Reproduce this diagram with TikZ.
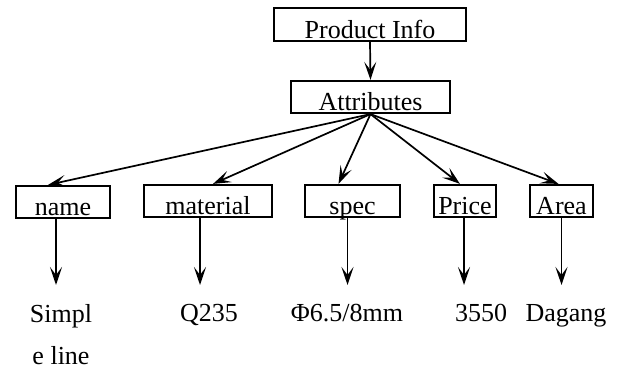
\documentclass[tikz,border=0pt]{standalone}
\usepackage{fontspec}
\setmainfont{Liberation Serif}
\usetikzlibrary{positioning,arrows.meta}
\tikzset{
  box/.style  ={draw, line width=1.7pt, inner xsep=2pt, inner ysep=0pt, text height=30pt, text depth=2.5pt, align=center},
  leaf/.style ={inner sep=0pt, outer ysep=19pt, anchor=north, align=center},
  arrow/.style={-{Stealth[length=18pt,width=12pt,inset=8pt]}, line width=1.7pt}
}

\begin{document}
\begin{tikzpicture}[x=1pt, y=-1pt, font=\fontsize{26}{42}\selectfont]
    \useasboundingbox (0,0) rectangle (619,369);
    % top of the tree
    \node[box, minimum width=192pt] (prod) at (370,24.5) {Product Info};
    \node[box, minimum width=159pt] (attr) at (370.5,97) {Attributes};
    % attribute boxes
    \node[box, minimum width=94pt]  (name)  at (63,202)    {name};
    \node[box, minimum width=128pt] (mat)   at (208,201)   {material};
    \node[box, minimum width=95pt]  (spec)  at (352.5,201) {spec};
    \node[box, minimum width=62pt]  (price) at (465,201)   {Price};
    \node[box, minimum width=63pt]  (area)  at (561.5,201) {Area};
    % values
    \node[leaf] (nameval)  at (61,285)  {Simpl\\e line};
    \node[leaf] (matval)   at (209,285) {Q235};
    \node[leaf] (specval)  at (347,285) {Φ6.5/8mm};
    \node[leaf] (priceval) at (481,285) {3550};
    \node[leaf] (areaval)  at (566,285) {Dagang};
    % arrows
    \draw[arrow] (prod.south) -- (attr.north);
    \draw[arrow] (attr.south) -- ([xshift=-15pt]name.north);
    \draw[arrow] (attr.south) -- ([xshift=5pt]mat.north);
    \draw[arrow] (attr.south) -- ([xshift=-14pt]spec.north);
    \draw[arrow] (attr.south) -- ([xshift=-5pt]price.north);
    \draw[arrow] (attr.south) -- ([xshift=-3pt]area.north);
    \draw[arrow] ([xshift=-7pt]name.south) -- ([xshift=-7pt]name.south |- nameval.north);
    \draw[arrow] ([xshift=-8pt]mat.south) -- ([xshift=-8pt]mat.south |- matval.north);
    \draw[arrow] ([xshift=-5pt]spec.south) -- ([xshift=-5pt]spec.south |- specval.north);
    \draw[arrow] ([xshift=-1pt]price.south) -- ([xshift=-1pt]price.south |- priceval.north);
    \draw[arrow] (area.south) -- (area.south |- areaval.north);
  \end{tikzpicture}
\end{document}
